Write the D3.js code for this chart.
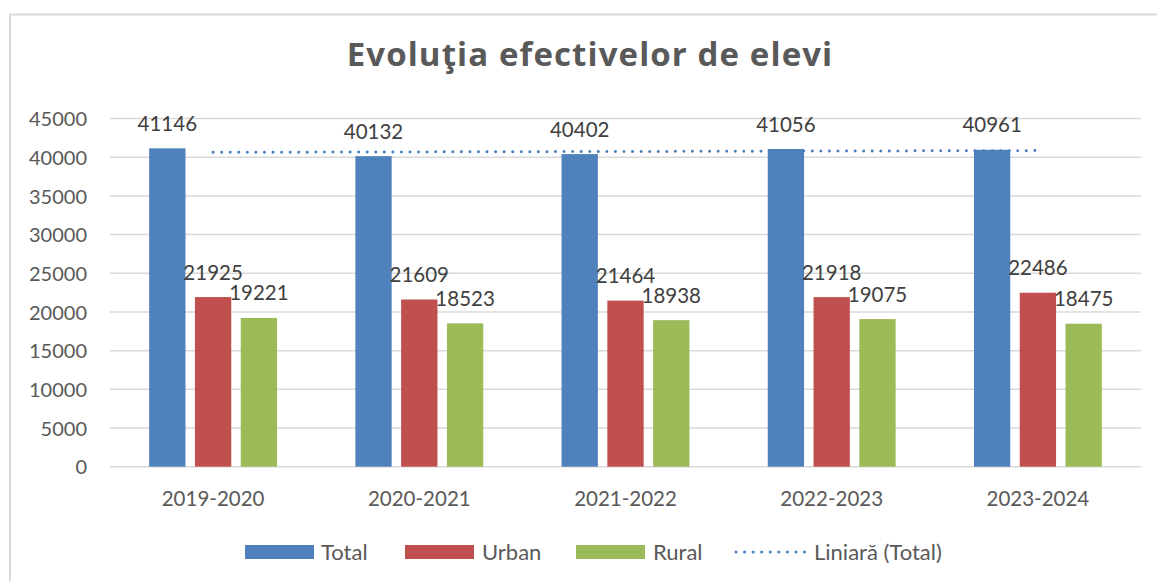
<!DOCTYPE html>
<html>
<head>
<meta charset="utf-8">
<script src="https://cdn.jsdelivr.net/npm/d3@7"></script>
<style>
  html, body { margin: 0; padding: 0; background: #ffffff; }
  svg { display: block; }
  text { font-family: Lato, "Open Sans", "Liberation Sans", sans-serif; }
</style>
</head>
<body>
<svg id="chart" width="1157" height="581"></svg>
<script>
// ---- data ----
const categories = ["2019-2020", "2020-2021", "2021-2022", "2022-2023", "2023-2024"];
const seriesNames = ["Total", "Urban", "Rural"];
const totalValues = [41146, 40132, 40402, 41056, 40961];
const urbanValues = [21925, 21609, 21464, 21918, 22486];
const ruralValues = [19221, 18523, 18938, 19075, 18475];
const yTicks = [0, 5000, 10000, 15000, 20000, 25000, 30000, 35000, 40000, 45000];
const titleText = "Evoluţia efectivelor de elevi";
const trendLabel = "Liniară (Total)";

const seriesValues = { Total: totalValues, Urban: urbanValues, Rural: ruralValues };
const colors = { Total: "#4f81bd", Urban: "#c0504d", Rural: "#9bbb59" };
const trendColor = "#4a7ebb";

const svg = d3.select("#chart");

// outer chart border
svg.append("rect")
  .attr("x", 10).attr("y", 14.5)
  .attr("width", 1200).attr("height", 700)
  .attr("fill", "#ffffff")
  .attr("stroke", "#d9d9d9").attr("stroke-width", 2);

// title
svg.append("text")
  .attr("x", 590).attr("y", 66)
  .attr("text-anchor", "middle")
  .style("font-family", "'Open Sans', Lato, sans-serif")
  .style("letter-spacing", "1.1px")
  .attr("font-size", 33).attr("font-weight", "bold")
  .attr("fill", "#595959")
  .text(titleText);

const plot = { left: 110, right: 1141, top: 118.5, bottom: 466.7 };

const x0 = d3.scaleBand().domain(categories).range([plot.left, plot.right]).paddingInner(0).paddingOuter(0);
const x1 = d3.scaleBand().domain(seriesNames).range([0, x0.bandwidth()]).paddingInner(0.207).paddingOuter(0.855);
const y = d3.scaleLinear().domain([0, 45000]).range([plot.bottom, plot.top]);

// gridlines
svg.append("g").selectAll("line").data(yTicks).join("line")
  .attr("x1", plot.left).attr("x2", plot.right)
  .attr("y1", d => y(d)).attr("y2", d => y(d))
  .attr("stroke", "#d9d9d9").attr("stroke-width", 1.5);

// y axis labels
const yAxis = d3.axisLeft(y).tickValues(yTicks).tickSize(0).tickPadding(0).tickFormat(d3.format("d"));
const yg = svg.append("g").attr("transform", `translate(87,0)`).call(yAxis);
yg.select(".domain").remove();
yg.selectAll("text").attr("font-size", 20).attr("fill", "#595959").attr("dy", "0.36em");

// x axis labels
const xAxis = d3.axisBottom(x0).tickSize(0).tickPadding(0);
const xg = svg.append("g").attr("transform", `translate(0,${plot.bottom})`).call(xAxis);
xg.select(".domain").remove();
xg.selectAll("text").attr("font-size", 20.5).attr("fill", "#595959").attr("dy", null).attr("y", 39.5);

// bars
const groups = svg.append("g").selectAll("g").data(categories).join("g")
  .attr("transform", d => `translate(${x0(d)},0)`);

const barData = (cat, i) => seriesNames.map(s => ({ s, v: seriesValues[s][i] }));

groups.each(function(cat, i) {
  const g = d3.select(this);
  const data = barData(cat, i);
  g.selectAll("rect").data(data).join("rect")
    .attr("x", d => x1(d.s))
    .attr("width", x1.bandwidth())
    .attr("y", d => y(d.v))
    .attr("height", d => y(0) - y(d.v))
    .attr("fill", d => colors[d.s]);
  g.selectAll("text").data(data).join("text")
    .attr("x", d => x1(d.s) + x1.bandwidth() / 2)
    .attr("y", d => y(d.v) - 17.5)
    .attr("text-anchor", "middle")
    .attr("font-size", 20.5)
    .attr("fill", "#404040")
    .text(d => d.v);
});

// linear trendline of Total
const n = totalValues.length;
const xs = d3.range(1, n + 1);
const mx = d3.mean(xs), my = d3.mean(totalValues);
const slope = d3.sum(xs, (xv, i) => (xv - mx) * (totalValues[i] - my)) / d3.sum(xs, xv => (xv - mx) ** 2);
const intercept = my - slope * mx;
const trendPts = categories.map((c, i) => [x0(c) + x0.bandwidth() / 2, y(intercept + slope * (i + 1))]);
svg.append("path")
  .attr("d", d3.line()(trendPts))
  .attr("fill", "none")
  .attr("stroke", trendColor)
  .attr("stroke-width", 3)
  .attr("stroke-linecap", "round")
  .attr("stroke-dasharray", "0.01 8.55");

// legend
const legend = svg.append("g");
const legendItems = [
  { name: "Total", type: "bar", sx: 245, tx: 321 },
  { name: "Urban", type: "bar", sx: 405, tx: 482 },
  { name: "Rural", type: "bar", sx: 576, tx: 653 },
  { name: trendLabel, type: "line", sx: 736, tx: 814 }
];
legendItems.forEach(it => {
  if (it.type === "bar") {
    legend.append("rect").attr("x", it.sx).attr("y", 545).attr("width", 69).attr("height", 14)
      .attr("fill", colors[it.name]);
  } else {
    legend.append("line").attr("x1", it.sx).attr("x2", it.sx + 69).attr("y1", 552).attr("y2", 552)
      .attr("stroke", trendColor).attr("stroke-width", 3).attr("stroke-linecap", "round")
      .attr("stroke-dasharray", "0.01 8.55");
  }
  legend.append("text").attr("x", it.tx).attr("y", 559.5).attr("font-size", 22).attr("fill", "#595959").text(it.name);
});
</script>
</body>
</html>
